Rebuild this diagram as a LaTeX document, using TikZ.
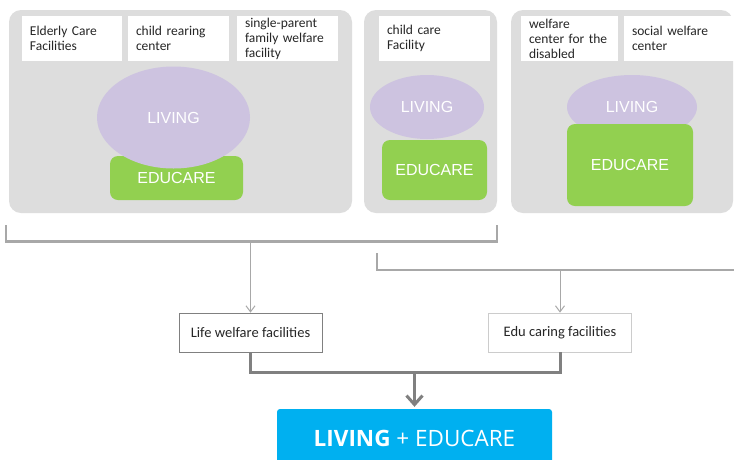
\documentclass[tikz,border=0pt]{standalone}
\usepackage{fontspec}
\setmainfont{Carlito}
\newfontfamily\arialf{Liberation Sans}
\newfontfamily\opensf{Open Sans}
\usetikzlibrary{arrows.meta,shapes.geometric}
\definecolor{panelgray}{HTML}{DDDDDD}
\definecolor{lav}{HTML}{CDC3E0}
\definecolor{grn}{HTML}{92D050}
\definecolor{sky}{HTML}{00B0F0}
\definecolor{brk}{HTML}{A8A8A8}
\definecolor{thk}{HTML}{808080}
\tikzset{
  panel/.style={fill=panelgray, rounded corners=12pt},
  wbox/.style={rectangle, fill=white, inner xsep=8pt, inner ysep=0pt, minimum height=45pt,
    align=left, font=\fontsize{13.5}{15}\selectfont, text=black!85},
  living/.style={ellipse, fill=lav, inner sep=0pt, text=white, font=\arialf\fontsize{16}{16}\selectfont},
  educare/.style={rectangle, fill=grn, rounded corners=8pt, inner sep=0pt, text=white, font=\arialf\fontsize{16}{16}\selectfont},
  bracket/.style={draw=brk, line width=2.5pt},
  thinarrow/.style={draw=brk, line width=1pt, -{Straight Barb[length=6pt,width=9pt]}},
  lbox/.style={rectangle, fill=white, draw=#1, line width=0.8pt, minimum width=143pt, minimum height=39pt,
    inner sep=0pt, font=\fontsize{14.5}{15}\selectfont, text=black!85},
  thickline/.style={draw=thk, line width=3pt},
  thickarrow/.style={draw=thk, line width=3pt, -{Straight Barb[length=9pt,width=16pt]}},
  bluebox/.style={rectangle, fill=sky, rounded corners=3pt, minimum width=275pt, minimum height=58pt,
    inner sep=0pt, text=white, font=\opensf\fontsize{22.5}{22.5}\selectfont}
}
\begin{document}
\begin{tikzpicture}[x=1pt,y=-1pt]
\useasboundingbox (0,0) rectangle (734,459);
\clip (0,0) rectangle (734,459);
\fill[white] (0,0) rectangle (734,459);
% panels
\fill[panel] (9,10) rectangle (352,213);
\fill[panel] (364,10) rectangle (497,213);
\fill[panel] (511,10) rectangle (733,213);
% white boxes
\node[wbox, text width=84pt] (b1) at (72,38.5) {Elderly Care\\Facilities};
\node[wbox, text width=85pt] (b2) at (178.5,38.5) {child rearing\\center};
\node[wbox, text width=85pt] (b3) at (287.5,38.5) {single-parent\\family welfare\\facility};
\node[wbox, text width=95pt] (b4) at (434.5,38.5) {child care\\Facility};
\node[wbox, text width=81pt] (b5) at (569.5,38.5) {welfare\\center for the\\disabled};
\node[wbox, text width=94pt] (b6) at (679,38.5) {social welfare\\center};
% panel 1
\node[educare, minimum width=133pt, minimum height=44pt] (g1) at (176.5,178) {EDUCARE};
\node[living, minimum width=153pt, minimum height=102pt] (l1) at (173.5,117.5) {LIVING};
% panel 2
\node[living, minimum width=114pt, minimum height=64pt] (l2) at (427,107) {LIVING};
\node[educare, minimum width=105pt, minimum height=60pt] (g2) at (434.5,170) {EDUCARE};
% panel 3
\node[living, minimum width=130pt, minimum height=64pt] (l3) at (632,107) {LIVING};
\node[educare, minimum width=126pt, minimum height=82pt] (g3) at (630,165) {EDUCARE};
% brackets
\coordinate (k1l) at (6,225);
\coordinate (k1m) at (250.5,241.5);
\coordinate (k1r) at (497,225);
\coordinate (k2l) at (377,253);
\coordinate (k2m) at (560,270);
\coordinate (k2r) at (740,270);
\draw[bracket] (k1l) |- (k1m) -| (k1r);
\draw[bracket] (k2l) |- (k2m) -- (k2r);
% mid boxes
\node[lbox=thk] (life) at (250.5,332.5) {Life welfare facilities};
\node[lbox=black!20] (edu) at (560,332.5) {Edu caring facilities};
\draw[thinarrow] (k1m) -- (life.north);
\draw[thinarrow] (k2m) -- (edu.north);
% bottom
\node[bluebox] (res) at (414.5,438) {\textbf{LIVING} + EDUCARE};
\coordinate (mid) at (414.5,372);
\draw[thickline] (life.south) |- (mid) -| (edu.south);
\draw[thickarrow, shorten >=2pt] (mid) -- (res.north);
\end{tikzpicture}
\end{document}
